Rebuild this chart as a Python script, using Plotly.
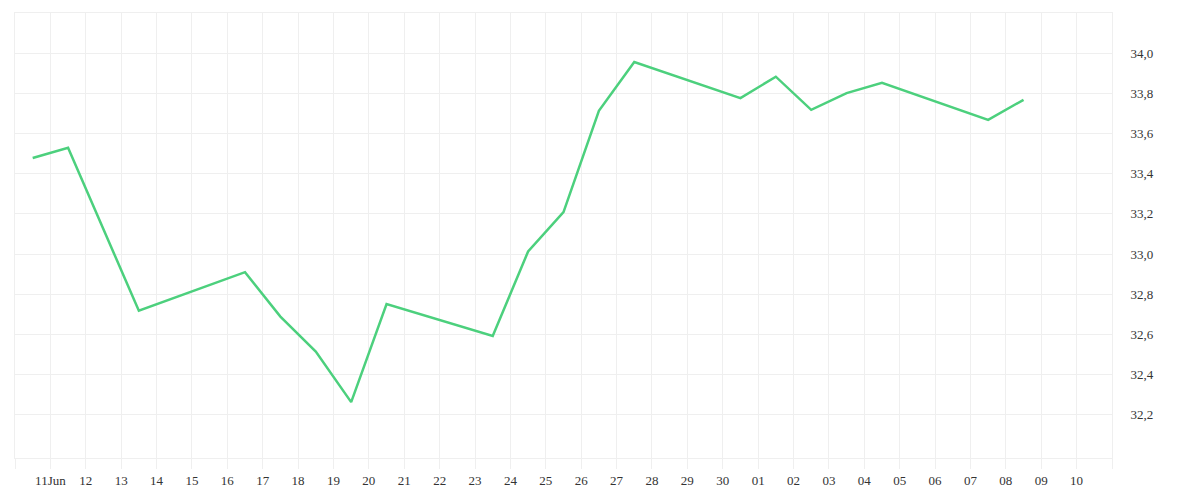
import plotly.graph_objects as go

# trading days (points sit at midday of each day)
dates = ["2025-06-10", "2025-06-11", "2025-06-13", "2025-06-16", "2025-06-17",
         "2025-06-18", "2025-06-19", "2025-06-20", "2025-06-23", "2025-06-24",
         "2025-06-25", "2025-06-26", "2025-06-27", "2025-06-30", "2025-07-01",
         "2025-07-02", "2025-07-03", "2025-07-04", "2025-07-07", "2025-07-08"]
prices = [33.478, 33.529, 32.718, 32.910, 32.689,
          32.515, 32.263, 32.751, 32.592, 33.013,
          33.209, 33.713, 33.956, 33.776, 33.883,
          33.718, 33.801, 33.853, 33.668, 33.768]

tick_dates = ["2025-06-10", "2025-06-11", "2025-06-12", "2025-06-13", "2025-06-14",
              "2025-06-15", "2025-06-16", "2025-06-17", "2025-06-18", "2025-06-19",
              "2025-06-20", "2025-06-21", "2025-06-22", "2025-06-23", "2025-06-24",
              "2025-06-25", "2025-06-26", "2025-06-27", "2025-06-28", "2025-06-29",
              "2025-06-30", "2025-07-01", "2025-07-02", "2025-07-03", "2025-07-04",
              "2025-07-05", "2025-07-06", "2025-07-07", "2025-07-08", "2025-07-09",
              "2025-07-10", "2025-07-11"]
tick_labels = ["", "11Jun", "12", "13", "14", "15", "16", "17", "18", "19", "20",
               "21", "22", "23", "24", "25", "26", "27", "28", "29", "30",
               "01", "02", "03", "04", "05", "06", "07", "08", "09", "10", ""]

y_ticks = [32.2, 32.4, 32.6, 32.8, 33.0, 33.2, 33.4, 33.6, 33.8, 34.0]

grid = "#efefef"
font_family = "Liberation Serif"

fig = go.Figure()
fig.add_trace(go.Scatter(
    x=[d + " 12:00" for d in dates],
    y=prices,
    mode="lines",
    line=dict(color="#4CD07D", width=2.5),
    showlegend=False,
))

# the page body adds ~8px, so margins are shifted to keep the plot in place
fig.update_layout(
    width=1200,
    height=500,
    margin=dict(l=7, r=96, t=5, b=50),
    paper_bgcolor="white",
    plot_bgcolor="white",
    separators=", ",
    font=dict(family=font_family, size=13, color="#333333"),
    xaxis=dict(
        type="date",
        range=["2025-06-10", "2025-07-11"],
        tickvals=tick_dates,
        ticktext=tick_labels,
        showgrid=True,
        gridcolor=grid,
        gridwidth=1,
        showline=True,
        linecolor=grid,
        mirror=True,
        ticks="outside",
        ticklen=10,
        tickcolor=grid,
        zeroline=False,
    ),
    yaxis=dict(
        side="right",
        range=[31.985, 34.2],
        tickvals=y_ticks,
        tickformat=".1f",
        showgrid=True,
        gridcolor=grid,
        gridwidth=1,
        showline=True,
        linecolor=grid,
        mirror=True,
        ticks="",
        ticklabelstandoff=15,
        zeroline=False,
    ),
)

fig.write_html("out.html")
